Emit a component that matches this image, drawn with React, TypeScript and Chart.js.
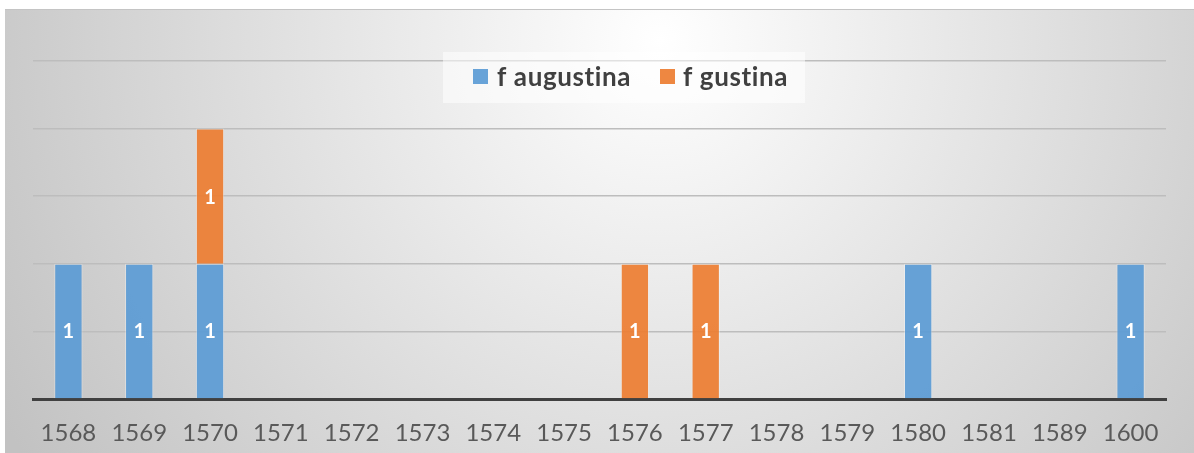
import React, { useEffect, useRef } from "react";
import { Chart, registerables } from "chart.js";

Chart.register(...registerables);

const categories = ["1568", "1569", "1570", "1571", "1572", "1573", "1574", "1575", "1576", "1577", "1578", "1579", "1580", "1581", "1589", "1600"];
const augustina = [1, 1, 1, null, null, null, null, null, null, null, null, null, 1, null, null, 1];
const gustina = [null, null, 1, null, null, null, null, null, 1, 1, null, null, null, null, null, null];
const seriesNames = ["f augustina", "f gustina"];
const seriesColors = ["rgba(91,155,213,0.92)", "rgba(237,125,49,0.92)"];

const W = 1194;
const H = 453;

const bgPlugin = {
  id: "bg",
  beforeDraw(chart: any) {
    const ctx = chart.ctx;
    ctx.save();
    ctx.fillStyle = "#ffffff";
    ctx.fillRect(0, 0, W, H);
    const g = ctx.createRadialGradient(660, 40, 0, 660, 40, 760);
    g.addColorStop(0, "#ffffff");
    g.addColorStop(1, "#c2c2c2");
    ctx.fillStyle = g;
    ctx.fillRect(5, 9, W - 5, H - 9);
    ctx.fillStyle = "#c4c4c4";
    ctx.fillRect(5, 9, W - 5, 1);
    ctx.restore();
  },
};

const labelPlugin = {
  id: "vals",
  afterDatasetsDraw(chart: any) {
    const ctx = chart.ctx;
    ctx.save();
    ctx.fillStyle = "#ffffff";
    ctx.font = "bold 20px Lato, 'Open Sans', sans-serif";
    ctx.textAlign = "center";
    ctx.textBaseline = "middle";
    chart.data.datasets.forEach((ds: any, i: number) => {
      const meta = chart.getDatasetMeta(i);
      meta.data.forEach((el: any, j: number) => {
        const v = ds.data[j];
        if (v === null || v === undefined) return;
        ctx.fillText(String(v), el.x, (el.y + el.base) / 2 + 1);
      });
    });
    ctx.restore();
  },
};

const legendPlugin = {
  id: "customLegend",
  afterDraw(chart: any) {
    const ctx = chart.ctx;
    ctx.save();
    ctx.fillStyle = "rgba(255,255,255,0.55)";
    ctx.fillRect(443, 52, 362, 51);
    const items = chart.data.datasets;
    const xs = [
      { box: 473, text: 497 },
      { box: 660, text: 683 },
    ];
    ctx.font = "bold 26px Lato, 'Open Sans', sans-serif";
    try {
      (ctx as any).letterSpacing = "0.6px";
    } catch (e) {}
    ctx.textBaseline = "alphabetic";
    ctx.textAlign = "left";
    items.forEach((ds: any, i: number) => {
      ctx.fillStyle = ds.backgroundColor;
      ctx.fillRect(xs[i].box, 69, 15, 15);
      ctx.fillStyle = "#404040";
      ctx.fillText(ds.label, xs[i].text, 86);
    });
    ctx.restore();
  },
};

export default function App() {
  const ref = useRef<HTMLCanvasElement | null>(null);
  useEffect(() => {
    document.body.style.margin = "0";
    if (!ref.current) return;
    const chart = new Chart(ref.current, {
      type: "bar",
      data: {
        labels: categories,
        datasets: [
          {
            label: seriesNames[0],
            data: augustina,
            backgroundColor: seriesColors[0],
            borderColor: "rgba(255,255,255,0.35)",
            borderWidth: 1,
            categoryPercentage: 1,
            barPercentage: 0.4,
          },
          {
            label: seriesNames[1],
            data: gustina,
            backgroundColor: seriesColors[1],
            borderColor: "rgba(255,255,255,0.35)",
            borderWidth: 1,
            categoryPercentage: 1,
            barPercentage: 0.4,
          },
        ] as any,
      },
      options: {
        animation: false,
        responsive: false,
        maintainAspectRatio: false,
        layout: { padding: { left: 33, right: 28, top: 61, bottom: 0 } },
        plugins: { legend: { display: false }, tooltip: { enabled: false } },
        scales: {
          x: {
            stacked: true,
            z: 1,
            grid: { display: false, drawTicks: false },
            border: { display: true, color: "#404040", width: 3 },
            ticks: {
              color: "#595959",
              font: { family: "Lato, 'Open Sans', sans-serif", size: 24 },
              padding: 20,
              maxRotation: 0,
              autoSkip: false,
            },
            afterFit: (s: any) => {
              s.height = 54;
            },
          },
          y: {
            stacked: true,
            min: 0,
            max: 2.5,
            ticks: { display: false, stepSize: 0.5 },
            grid: { color: "#bdbdbd", lineWidth: 1.5, drawTicks: false },
            border: { display: false },
            afterFit: (s: any) => {
              s.width = 0;
            },
          },
        },
      } as any,
      plugins: [bgPlugin, labelPlugin, legendPlugin],
    });
    return () => chart.destroy();
  }, []);
  return (
    <div style={{ position: "absolute", left: 0, top: 0, width: W, height: H }}>
      <canvas ref={ref} width={W} height={H} style={{ display: "block", width: W, height: H }} />
    </div>
  );
}
